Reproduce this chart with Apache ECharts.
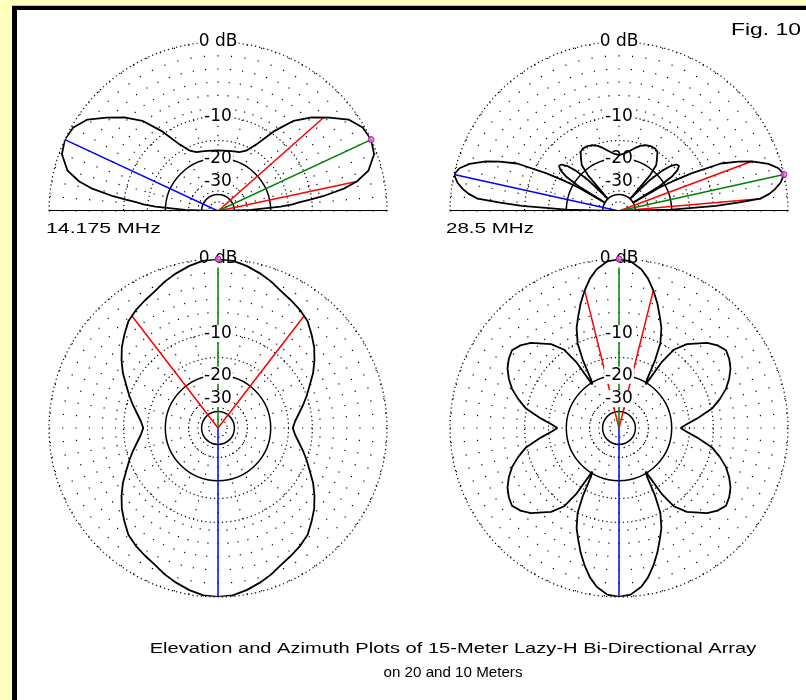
<!DOCTYPE html>
<html>
<head>
<meta charset="utf-8">
<script src="https://cdn.jsdelivr.net/npm/echarts@6/dist/echarts.min.js"></script>
<style>
html, body { margin: 0; padding: 0; width: 806px; height: 700px; overflow: hidden; background: #ffffc0; }
#frame { position: absolute; left: 12px; top: 6px; right: 0; bottom: 0; background: #fff;
         border-left: 5px solid #000; border-top: 4px solid #000; box-shadow: 0 -1px 0 #c8c890; }
#chart { position: absolute; left: 0; top: 0; width: 806px; height: 700px; }
</style>
</head>
<body>
<div id="frame"></div>
<div id="chart"></div>
<script>
// ARRL log scale: field ratio of 0.89 for every 2 dB below the maximum
const ARRL_RATIO = 0.89;
const rel = db => Math.pow(ARRL_RATIO, -db / 2);
const toDb = r => Math.round(-2 * Math.log(r) / Math.log(ARRL_RATIO));

// Grid rings (dB)
const dottedRings = [0, -10, -15, -30, -50];
const solidRings = [-20, -40];
const labelRings = [0, -10, -20, -30];

// Elevation pattern, 14.175 MHz (elevation angle in degrees, gain in dB)
const el14Deg = [0, 2, 4, 5, 6, 7, 8, 10, 12, 15, 20, 25, 30, 35, 40, 45, 50, 55, 60, 65, 70, 75, 80, 85, 90,
  95, 100, 105, 110, 115, 120, 125, 130, 135, 140, 145, 150, 155, 160, 165, 168, 170, 172, 173, 174, 175, 176, 178, 180];
const el14Db = [-60, -28, -17, -14, -12.5, -10.3, -8.0, -4.9, -3.0, -1.4, -0.3, 0, -0.2, -1.0, -2.6, -4.2, -6.2, -9.5, -13.5, -16.0, -17.0, -17.3, -17.5, -17.6, -17.6,
  -17.6, -17.5, -17.3, -17.0, -16.0, -13.5, -9.5, -6.2, -4.2, -2.6, -1.0, -0.2, 0, -0.3, -1.4, -3.0, -4.9, -8.0, -10.3, -12.5, -14, -17, -28, -60];

// Elevation pattern, 28.5 MHz
const el28Deg = [0, 1.5, 3, 4, 5, 6.5, 8, 10, 12.5, 15, 17.5, 20.5, 22.5, 25, 27.5, 29, 30, 30.7, 31.5, 33,
  35, 37, 39, 41, 43, 45, 47.5, 49, 51, 54, 57, 60, 64, 68, 72, 76, 80, 85, 90,
  95, 100, 104, 108, 112, 116, 120, 123, 126, 129, 131, 132.5, 135, 137, 139, 141, 143, 145, 147, 148.5,
  149.3, 150, 151, 152.5, 155, 157.5, 159.5, 162.5, 165, 167.5, 170, 172, 173.5, 175, 176, 177, 178.5, 180];
const el28Db = [-60, -20, -9.5, -6, -3.0, -1.9, -1.2, -0.5, 0, -0.4, -1.3, -3.0, -4.6, -7.0, -12.5, -17.5, -22, -40, -22, -17,
  -14.8, -13.9, -14.2, -15.5, -18, -23, -40, -22, -18, -16.5, -15, -14.6, -14.6, -14.9, -15.5, -16.5, -17.5, -18.5, -19,
  -18.5, -17.5, -16.5, -15.5, -14.9, -14.6, -14.6, -15, -16.5, -18, -22, -40, -23, -18, -15.5, -14.2, -13.9, -14.8, -17, -22,
  -40, -22, -17.5, -12.5, -7.0, -4.6, -3.0, -1.3, -0.4, 0, -0.5, -1.2, -1.9, -3.0, -6, -9.5, -20, -60];

// Azimuth pattern, 14.175 MHz (bearing from the favoured direction, clockwise)
const az14Deg = [0, 5, 10, 15, 20, 25, 30, 35, 40, 45, 50, 55, 60, 65, 70, 75, 80, 85, 90,
  95, 100, 105, 110, 115, 120, 125, 130, 135, 140, 145, 150, 155, 160, 165, 170, 175, 180,
  185, 190, 195, 200, 205, 210, 215, 220, 225, 230, 235, 240, 245, 250, 255, 260, 265, 270,
  275, 280, 285, 290, 295, 300, 305, 310, 315, 320, 325, 330, 335, 340, 345, 350, 355, 360];
const az14Db = [0, -0.1, -0.45, -0.9, -1.4, -2.0, -2.4, -2.8, -3.3, -4.2, -5.1, -6.2, -7.4, -8.8, -10.0, -11.2, -12.4, -13.4, -14.0,
  -13.4, -12.4, -11.2, -10.0, -8.8, -7.4, -6.2, -5.1, -4.2, -3.3, -2.8, -2.4, -2.0, -1.4, -0.9, -0.45, -0.1, 0,
  -0.1, -0.45, -0.9, -1.4, -2.0, -2.4, -2.8, -3.3, -4.2, -5.1, -6.2, -7.4, -8.8, -10.0, -11.2, -12.4, -13.4, -14.0,
  -13.4, -12.4, -11.2, -10.0, -8.8, -7.4, -6.2, -5.1, -4.2, -3.3, -2.8, -2.4, -2.0, -1.4, -0.9, -0.45, -0.1, 0];

// Azimuth pattern, 28.5 MHz
const az28Deg = [0, 4, 8, 11, 14, 17, 20, 23, 26, 28, 30, 31.5, 33, 35, 39, 46, 50, 54, 58, 62, 66, 70, 74, 78, 83, 87, 90,
  93, 97, 102, 106, 110, 114, 118, 122, 126, 130, 134, 141, 145, 147, 148.5, 150, 152, 154, 157, 160, 163, 166, 169, 172, 176, 180,
  184, 188, 191, 194, 197, 200, 203, 206, 208, 210, 211.5, 213, 215, 219, 226, 230, 234, 238, 242, 246, 250, 254, 258, 263, 267, 270,
  273, 277, 282, 286, 290, 294, 298, 302, 306, 310, 314, 321, 325, 327, 328.5, 330, 332, 334, 337, 340, 343, 346, 349, 352, 356, 360];
const az28Db = [0, -0.2, -0.9, -1.8, -3.0, -4.4, -6.0, -7.6, -10.0, -13.5, -19.0, -20.5, -13.0, -9.8, -7.7, -5.5, -4.7, -4.2, -4.5, -5.0, -5.8, -6.8, -8.2, -9.8, -13.1, -15.8, -17.3,
  -15.8, -13.1, -9.8, -8.2, -6.8, -5.8, -5.0, -4.5, -4.2, -4.7, -5.5, -7.7, -9.8, -13.0, -20.5, -19.0, -13.5, -10.0, -7.6, -6.0, -4.4, -3.0, -1.8, -0.9, -0.2, 0,
  -0.2, -0.9, -1.8, -3.0, -4.4, -6.0, -7.6, -10.0, -13.5, -19.0, -20.5, -13.0, -9.8, -7.7, -5.5, -4.7, -4.2, -4.5, -5.0, -5.8, -6.8, -8.2, -9.8, -13.1, -15.8, -17.3,
  -15.8, -13.1, -9.8, -8.2, -6.8, -5.8, -5.0, -4.5, -4.2, -4.7, -5.5, -7.7, -9.8, -13.0, -20.5, -19.0, -13.5, -10.0, -7.6, -6.0, -4.4, -3.0, -1.8, -0.9, -0.2, 0];

// Beam lines: maximum (green), -3 dB points (red), opposite lobe (blue)
const plots = [
  { kind: 'el', center: [218, 211], deg: el14Deg, db: el14Db, peak: 25, back: 155, backDb: 0, half: [12, 41.5] },
  { kind: 'el', center: [619, 211], deg: el28Deg, db: el28Db, peak: 12.5, back: 167.5, backDb: 0, half: [5, 20.5] },
  { kind: 'az', center: [218, 428], deg: az14Deg, db: az14Db, peak: 0, back: 180, backDb: 0, half: [37.5, 322.5] },
  { kind: 'az', center: [619, 428], deg: az28Deg, db: az28Db, peak: 0, back: 180, backDb: 0, half: [14, 346] }
];

const freqLabels = ['14.175 MHz', '28.5 MHz'];
const figLabel = 'Fig. 10';
const titleLines = ['Elevation and Azimuth Plots of 15-Meter Lazy-H Bi-Directional Array', 'on 20 and 10 Meters'];

const R = 169;
const FONT = '"Liberation Sans", Arial, sans-serif';

const option = { animation: false, polar: [], angleAxis: [], radiusAxis: [], series: [], graphic: [] };

const hidden = { axisLine: { show: false }, axisTick: { show: false }, axisLabel: { show: false }, splitLine: { show: false } };

function angleBase(kind) {
  return kind === 'el'
    ? { type: 'value', min: 0, max: 180, startAngle: 0, endAngle: 180, clockwise: false }
    : { type: 'value', min: 0, max: 360, startAngle: 90, clockwise: true };
}

function addPolar(center, radius, angleCfg, radiusCfg) {
  const idx = option.polar.length;
  option.polar.push({ center: center, radius: radius });
  option.angleAxis.push(Object.assign({ polarIndex: idx }, hidden, angleCfg));
  option.radiusAxis.push(Object.assign({ polarIndex: idx, type: 'value', min: 0, max: 1 }, hidden, radiusCfg));
  return idx;
}

plots.forEach(p => {
  const base = angleBase(p.kind);
  // dotted rings
  const main = addPolar(p.center, R, Object.assign({}, base),
    { axisTick: { show: false, customValues: dottedRings.map(rel) },
      splitLine: { show: true, lineStyle: { color: '#000', width: 1.2, type: [1.2, 3] } } });
  // solid rings
  addPolar(p.center, R, Object.assign({}, base),
    { axisTick: { show: false, customValues: solidRings.map(rel) },
      splitLine: { show: true, lineStyle: { color: '#000', width: 1.5 } } });
  // 15 degree spokes inside the -10 dB ring
  addPolar(p.center, [rel(-40) * R, rel(-10) * R],
    Object.assign({}, base, { interval: 15, splitLine: { show: true, lineStyle: { color: '#000', width: 1.2, type: [1.2, 8] } } }),
    {});
  // 5 degree spokes in the outer band
  addPolar(p.center, [rel(-10) * R, R],
    Object.assign({}, base, { interval: 5, splitLine: { show: true, lineStyle: { color: '#000', width: 1.2, type: [1.2, 12] } } }),
    {});
  // ring labels along the vertical axis
  addPolar(p.center, R, { type: 'value', min: 0, max: 360, startAngle: 90 },
    { z: 3,
      axisLabel: { show: true, customValues: labelRings.map(rel), margin: 0, align: 'center', verticalAlign: 'middle',
        fontFamily: '"DejaVu Sans", sans-serif', fontSize: 17, color: '#000', backgroundColor: '#fff', padding: [0, 1],
        formatter: v => (toDb(v) === 0 ? '0 dB' : String(toDb(v))) } });

  const pattern = p.deg.map((a, i) => [rel(p.db[i]), a]);
  const lineSeries = (data, color, width, z) => ({
    type: 'line', coordinateSystem: 'polar', polarIndex: main, data: data, showSymbol: false, silent: true,
    lineStyle: { color: color, width: width }, z: z
  });
  if (p.kind === 'el') option.series.push(lineSeries([[1, 0], [0, 0], [1, 180]], '#000', 2, 4));
  option.series.push(lineSeries([[0, p.back], [rel(p.backDb), p.back]], '#0000ff', 1.5, 2));
  option.series.push(lineSeries([[rel(-3), p.half[0]], [0, p.half[0]], [0, p.half[1]], [rel(-3), p.half[1]]], '#ff0000', 1.5, 2));
  option.series.push(lineSeries([[0, p.peak], [1, p.peak]], '#008000', 1.5, 2));
  option.series.push(lineSeries(pattern, '#000', 1.8, 4));
  option.series.push({
    type: 'scatter', coordinateSystem: 'polar', polarIndex: main, data: [[1, p.peak]], symbol: 'circle', symbolSize: 6,
    itemStyle: { color: '#e070e0', borderColor: '#a000a0', borderWidth: 1 }, z: 6, silent: true
  });
});

const textStyle = (text, size, extra) => Object.assign({ text: text, font: size + 'px ' + FONT, fill: '#000', textVerticalAlign: 'middle' }, extra || {});
option.graphic = [
  { type: 'text', x: 46, y: 229, scaleX: 1.42, style: textStyle(freqLabels[0], 15) },
  { type: 'text', x: 446, y: 229, scaleX: 1.37, style: textStyle(freqLabels[1], 15) },
  { type: 'text', x: 731, y: 31, scaleX: 1.43, style: textStyle(figLabel, 16) },
  { type: 'text', x: 453, y: 649, scaleX: 1.34, style: textStyle(titleLines[0], 15, { textAlign: 'center' }) },
  { type: 'text', x: 453, y: 673, scaleX: 1.01, style: textStyle(titleLines[1], 15, { textAlign: 'center' }) }
];

const chart = echarts.init(document.getElementById('chart'), null, { renderer: 'canvas' });
chart.setOption(option);
</script>
</body>
</html>
